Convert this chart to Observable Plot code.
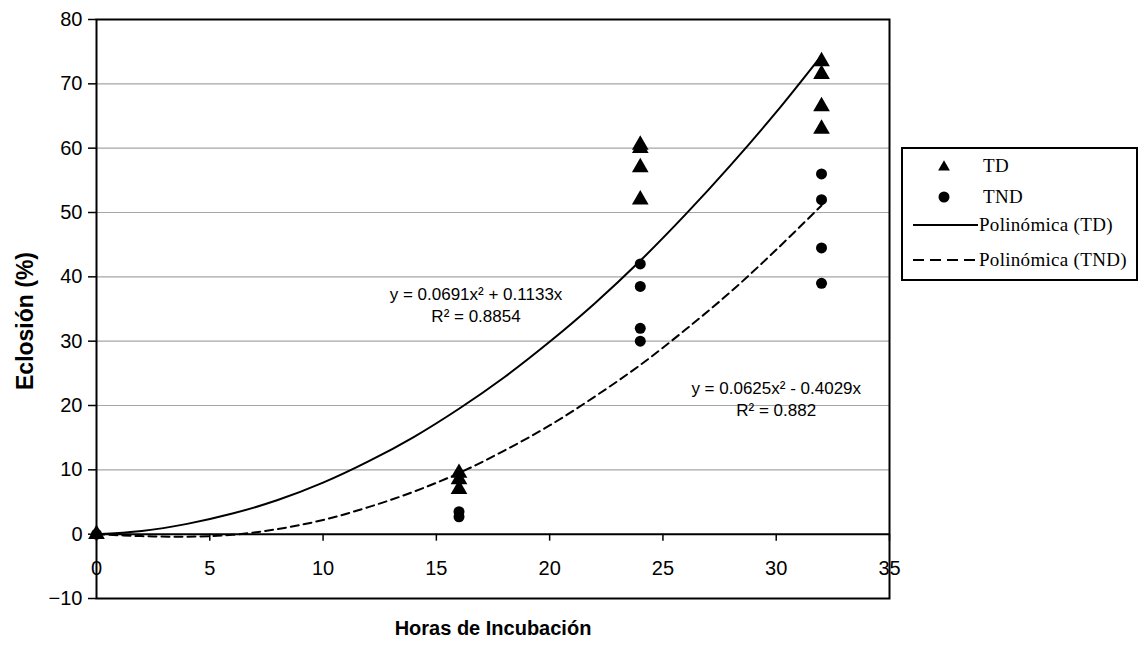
<!DOCTYPE html>
<html>
<head>
<meta charset="utf-8">
<script src="https://cdn.jsdelivr.net/npm/d3@7"></script>
<script src="https://cdn.jsdelivr.net/npm/@observablehq/plot@0.6"></script>
<style>
  html, body { margin: 0; padding: 0; background: #fff; }
  #wrap { position: relative; width: 1140px; height: 654px; }
  #legend { position: absolute; left: 901px; top: 147px; width: 237px; height: 134px;
    border: 2px solid #000; box-sizing: border-box; background: #fff;
    font-family: "Liberation Serif", "Times New Roman", serif; font-size: 19px; color: #000; letter-spacing: 0.3px; }
  .li { position: absolute; left: 0; height: 26px; display: flex; align-items: center; }
  .li svg { display: block; }
</style>
</head>
<body>
<div id="wrap"></div>
<script>
// ---- data ----
const tdHoras  = [0, 16, 16, 16, 24, 24, 24, 24, 32, 32, 32, 32];
const tdEclos  = [0, 9.5, 8.5, 7, 60.5, 60, 57, 52, 73.5, 71.5, 66.5, 63];
const tndHoras = [0, 16, 16, 24, 24, 24, 24, 32, 32, 32, 32];
const tndEclos = [0, 3.5, 2.7, 42, 38.5, 32, 30, 56, 52, 44.5, 39];

// trend lines (polynomial fits)
const trendHoras = [0, 2, 4, 6, 8, 10, 12, 14, 16, 18, 20, 22, 24, 26, 28, 30, 32];
const trendTD    = [0, 0.5, 1.6, 3.2, 5.3, 8.0, 11.3, 15.1, 19.5, 24.4, 29.9, 35.9, 42.5, 49.7, 57.4, 65.6, 74.4];
const trendTND   = [0, -0.3, -0.4, -0.1, 0.8, 2.2, 4.2, 6.6, 9.5, 13.0, 16.9, 21.4, 26.3, 31.8, 37.7, 44.2, 51.1];

const xTicks = [0, 5, 10, 15, 20, 25, 30, 35];
const yTicks = [-10, 0, 10, 20, 30, 40, 50, 60, 70, 80];
const gridY  = [10, 20, 30, 40, 50, 60, 70];

const eqText  = ["y = 0.0691x² + 0.1133x\nR² = 0.8854", "y = 0.0625x² - 0.4029x\nR² = 0.882"];
const eqHoras = [16.75, 30.0];
const eqEclos = [35.8, 21.2];

const xLabel = "Horas de Incubación";
const yLabel = "Eclosión (%)";
const legendLabels = ["TD", "TND", "Polinómica (TD)", "Polinómica (TND)"];

// ---- tables ----
const td  = tdHoras.map((h, i) => ({h, v: tdEclos[i]}));
const tnd = tndHoras.map((h, i) => ({h, v: tndEclos[i]}));
const trTD  = trendHoras.map((h, i) => ({h, v: trendTD[i]}));
const trTND = trendHoras.map((h, i) => ({h, v: trendTND[i]}));
const eqs = eqText.map((t, i) => ({t, h: eqHoras[i], v: eqEclos[i]}));

const font = "Liberation Sans, Arial, sans-serif";

const chart = Plot.plot({
  width: 1140,
  height: 654,
  marginLeft: 96,
  marginRight: 251,
  marginTop: 19,
  marginBottom: 56,
  style: {fontFamily: font, fontSize: "18px", color: "#000", background: "#fff"},
  x: {domain: [0, 35], axis: null},
  y: {domain: [-10, 80]},
  marks: [
    Plot.ruleY(gridY, {stroke: "#a6a6a6", strokeWidth: 1.2}),
    Plot.axisY({ticks: yTicks, tickSize: 8, tickPadding: 6, fontSize: 20, label: null, stroke: "#000", strokeWidth: 1.5}),
    Plot.ruleY([0], {stroke: "#000", strokeWidth: 2}),
    Plot.ruleX(xTicks, {x: d => d, y1: 0, y2: 0, insetBottom: -7, stroke: "#000", strokeWidth: 1.5}),
    Plot.text(xTicks, {x: d => d, y: 0, dy: 34, text: d => String(d), fontSize: 20, fill: "#000"}),
    Plot.line(trTD, {x: "h", y: "v", curve: "catmull-rom", stroke: "#000", strokeWidth: 2}),
    Plot.line(trTND, {x: "h", y: "v", curve: "catmull-rom", stroke: "#000", strokeWidth: 2, strokeDasharray: "8,5"}),
    Plot.dot(tnd, {x: "h", y: "v", symbol: "circle", r: 5.5, fill: "#000", stroke: "none"}),
    Plot.dot(td, {x: "h", y: "v", symbol: "triangle", r: 6.2, fill: "#000", stroke: "none"}),
    Plot.text(eqs, {x: "h", y: "v", text: "t", fontSize: 17, fill: "#000", textAnchor: "middle", lineAnchor: "middle", lineHeight: 1.3}),
    Plot.frame({stroke: "#000", strokeWidth: 2}),
    Plot.text([yLabel], {frameAnchor: "left", text: d => d, rotate: -90, dx: -71, dy: 12, textAnchor: "middle", fontSize: 23, fontWeight: "bold", fill: "#000"}),
    Plot.text([xLabel], {frameAnchor: "bottom", text: d => d, dy: 30, fontSize: 20, fontWeight: "bold", fill: "#000", lineAnchor: "middle"})
  ]
});

const wrap = document.getElementById("wrap");
wrap.appendChild(chart);

// ---- legend ----
const legend = document.createElement("div");
legend.id = "legend";
const items = [
  {kind: "tri", top: 4},
  {kind: "dot", top: 35},
  {kind: "solid", top: 63},
  {kind: "dash", top: 98}
];
items.forEach((it, i) => {
  const row = document.createElement("div");
  row.className = "li";
  row.style.top = it.top + "px";
  const s = d3.create("svg").attr("width", it.kind === "tri" || it.kind === "dot" ? 80 : 76).attr("height", 26);
  if (it.kind === "tri") {
    s.append("path").attr("d", d3.symbol(d3.symbolTriangle, 60)()).attr("transform", "translate(41,14)").attr("fill", "#000");
  } else if (it.kind === "dot") {
    s.append("circle").attr("cx", 41).attr("cy", 13).attr("r", 5.5).attr("fill", "#000");
  } else {
    s.append("line").attr("x1", 10).attr("x2", 75).attr("y1", 13).attr("y2", 13)
      .attr("stroke", "#000").attr("stroke-width", 2)
      .attr("stroke-dasharray", it.kind === "dash" ? "11,6" : null);
  }
  row.appendChild(s.node());
  const t = document.createElement("span");
  t.textContent = legendLabels[i];
  row.appendChild(t);
  legend.appendChild(row);
});
wrap.appendChild(legend);
</script>
</body>
</html>
